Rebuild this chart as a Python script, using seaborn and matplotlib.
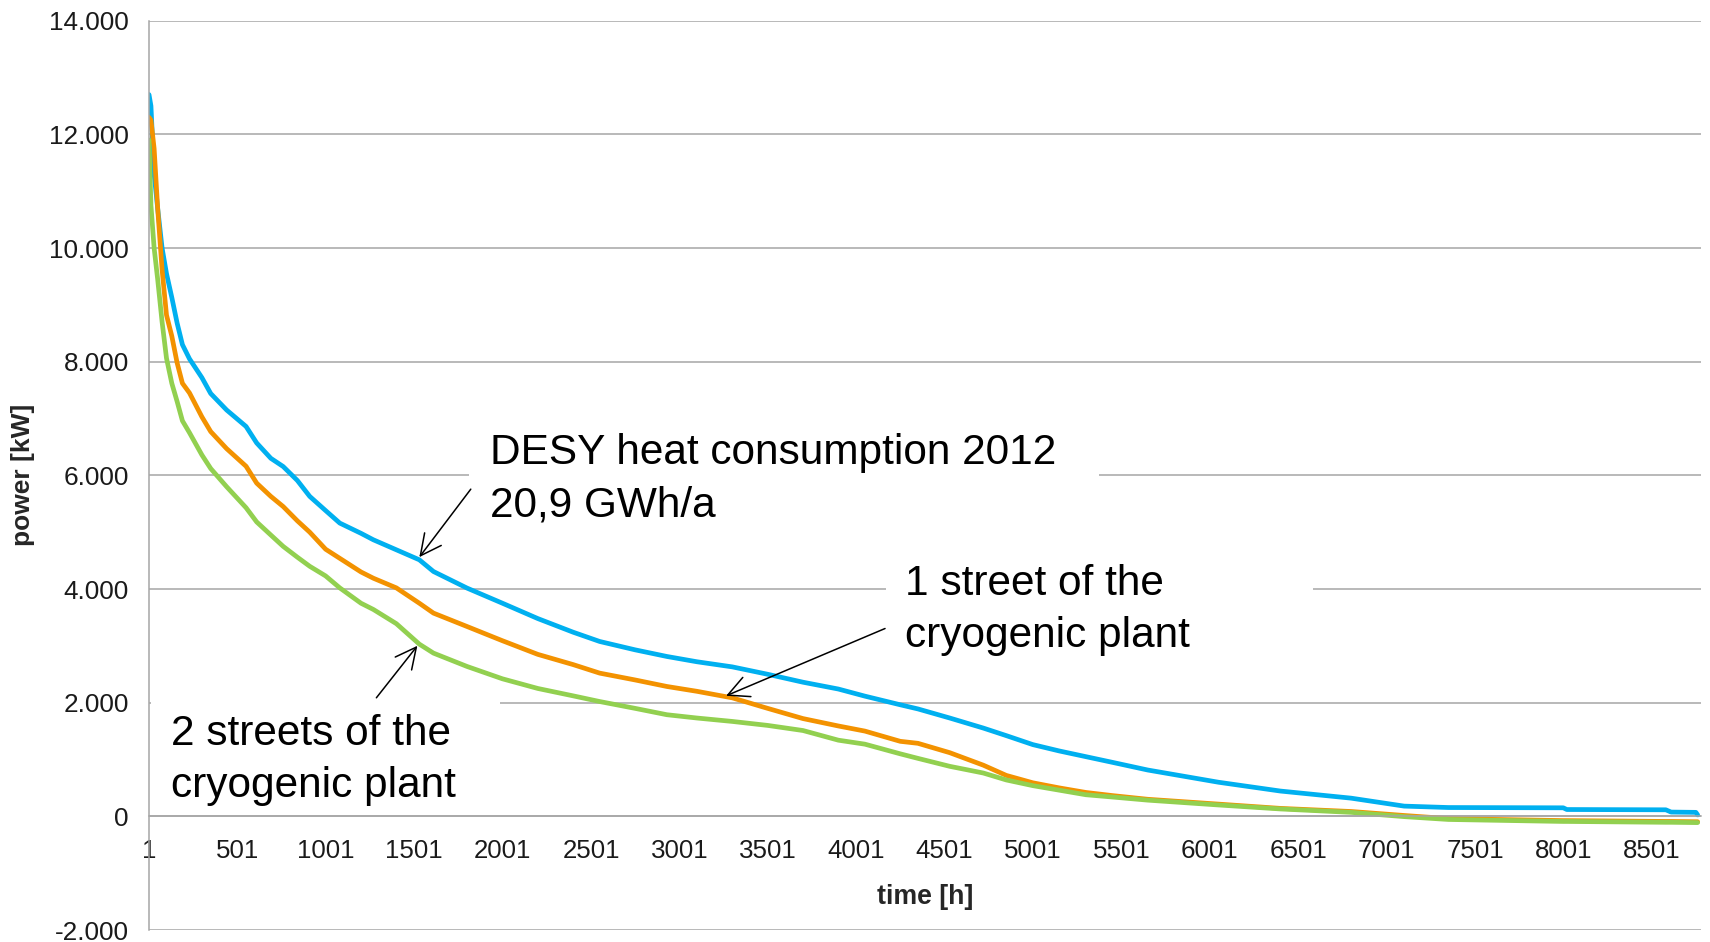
import numpy as np
import pandas as pd
import matplotlib
matplotlib.use("Agg")
import matplotlib.pyplot as plt
from matplotlib.path import Path
from matplotlib.ticker import FixedLocator
import seaborn as sns

# ---------------- data ----------------
hours = [1, 12, 30, 50, 75, 100, 130, 160, 190, 230,
         300, 350, 440, 550, 610, 690, 760, 840, 910, 1000,
         1080, 1200, 1270, 1400, 1530, 1610, 1800, 2000, 2200, 2400,
         2550, 2750, 2930, 3100, 3300, 3500, 3700, 3900, 4050, 4250,
         4350, 4530, 4720, 4850, 5000, 5150, 5300, 5450, 5650, 6050,
         6400, 6800, 7100, 7350, 8000, 8020, 8580, 8610, 8750, 8760]

desy_heat = [12700, 12500, 11300, 10700, 10000, 9550, 9130, 8680, 8300, 8050,
             7720, 7440, 7150, 6860, 6570, 6300, 6155, 5910, 5630, 5380,
             5160, 4980, 4866, 4690, 4514, 4308, 4016, 3750, 3480, 3240,
             3077, 2930, 2813, 2720, 2630, 2500, 2360, 2240, 2115, 1963,
             1890, 1730, 1553, 1420, 1262, 1150, 1050, 950, 815, 600,
             445, 320, 180, 155, 150, 120, 115, 75, 70, 25]

one_street = [12300, 12250, 11750, 10700, 9620, 8820, 8450, 7980, 7620, 7450,
              7030, 6770, 6470, 6160, 5863, 5630, 5451, 5200, 5000, 4700,
              4540, 4300, 4190, 4020, 3750, 3576, 3340, 3090, 2850, 2670,
              2520, 2400, 2285, 2200, 2085, 1900, 1720, 1590, 1500, 1320,
              1285, 1120, 900, 720, 590, 500, 420, 365, 300, 215,
              140, 85, 15, -40, -75, -75, -90, -90, -95, -95]

two_streets = [11900, 10750, 10000, 9450, 8700, 8060, 7620, 7300, 6960, 6750,
               6360, 6120, 5800, 5430, 5180, 4950, 4750, 4560, 4400, 4230,
               4020, 3750, 3640, 3390, 3030, 2872, 2637, 2420, 2250, 2120,
               2020, 1900, 1788, 1730, 1670, 1600, 1510, 1340, 1270, 1100,
               1020, 880, 762, 640, 540, 460, 380, 340, 285, 200,
               130, 70, -5, -55, -90, -90, -105, -105, -110, -110]

series_names = ["DESY heat consumption", "1 street", "2 streets"]
series_colors = ["#00B0F0", "#F39200", "#92D050"]

y_tick_values = [-2000, 0, 2000, 4000, 6000, 8000, 10000, 12000, 14000]
y_tick_labels = ["-2.000", "0", "2.000", "4.000", "6.000", "8.000",
                 "10.000", "12.000", "14.000"]
x_tick_values = [1, 501, 1001, 1501, 2001, 2501, 3001, 3501, 4001, 4501,
                 5001, 5501, 6001, 6501, 7001, 7501, 8001, 8501]
x_tick_labels = [str(v) for v in x_tick_values]
x_minor_ticks = [251, 751, 1251, 1751, 2251, 2751, 3251, 3751, 4251, 4751,
                 5251, 5751, 6251, 6751, 7251, 7751, 8251, 8751]

x_label = "time [h]"
y_label = "power [kW]"
note_desy = "DESY heat consumption 2012\n20,9 GWh/a"
note_one = "1 street of the\ncryogenic plant"
note_two = "2 streets of the\ncryogenic plant"

# ---------------- styling ----------------
sns.set_style("white")
plt.rcParams["font.family"] = ["Liberation Sans", "DejaVu Sans"]

GRID = "#A6A6A6"

df = pd.concat([
    pd.DataFrame({"hour": hours, "power": vals, "series": name})
    for name, vals in zip(series_names, [desy_heat, one_street, two_streets])
], ignore_index=True)

fig = plt.figure(figsize=(17.10, 9.42), dpi=100)
ax = fig.add_axes([149 / 1710, 12 / 942, 1552 / 1710, 909.3 / 942])

sns.lineplot(data=df, x="hour", y="power", hue="series",
             hue_order=series_names, palette=series_colors,
             estimator=None, sort=False, linewidth=3.4, legend=False, ax=ax)

ax.set_xlim(1, 8779)
ax.set_ylim(-2000, 14000)

ax.set_yticks(y_tick_values)
ax.set_yticklabels(y_tick_labels)
ax.set_xticks(x_tick_values)
ax.set_xticklabels(x_tick_labels)
ax.xaxis.set_minor_locator(FixedLocator(x_minor_ticks))

ax.set_axisbelow(True)
ax.yaxis.grid(True, color=GRID, linewidth=1.1)
ax.xaxis.grid(False)

for s in ["top", "right"]:
    ax.spines[s].set_visible(False)
ax.spines["left"].set_color(GRID)
ax.spines["left"].set_linewidth(1.1)
ax.spines["bottom"].set_color(GRID)
ax.spines["bottom"].set_linewidth(1.1)
ax.spines["bottom"].set_position(("data", 0))

ax.tick_params(axis="y", which="major", direction="out", length=6.5,
               width=1.1, color=GRID, labelsize=18.8, pad=8, labelcolor="#1a1a1a")
ax.tick_params(axis="x", which="both", direction="out", length=6.5,
               width=1.1, color=GRID, labelsize=18.6, pad=10, labelcolor="#1a1a1a")
ax.tick_params(axis="x", which="minor", labelbottom=False)

ax.set_xlabel(x_label, fontsize=19.3, fontweight="bold")
ax.set_ylabel(y_label, fontsize=19, fontweight="bold")
ax.xaxis.set_label_coords(0.5, 0.0506)
ax.yaxis.set_label_coords(-0.0735, 0.5)


def pad_box(left, right, top, bottom):
    def box(x0, y0, width, height, mutation_size):
        x1 = x0 - left * mutation_size
        x2 = x0 + width + right * mutation_size
        y1 = y0 - bottom * mutation_size
        y2 = y0 + height + top * mutation_size
        return Path([(x1, y1), (x2, y1), (x2, y2), (x1, y2), (x1, y1)],
                    closed=True)
    return box


NOTE_FS = 30.5
LS = 1.4
ax.text(1930, 6748, note_desy, fontsize=NOTE_FS, ha="left", va="top",
        linespacing=LS, color="black",
        bbox=dict(boxstyle=pad_box(0.5, 1.0, 0.3, 0.3), fc="white", ec="none"))
ax.text(4277, 4447, note_one, fontsize=NOTE_FS, ha="left", va="top",
        linespacing=LS, color="black",
        bbox=dict(boxstyle=pad_box(0.45, 2.9, 0.3, 0.25), fc="white", ec="none"))
ax.text(125, 1805, note_two, fontsize=NOTE_FS, ha="left", va="top",
        linespacing=LS, color="black",
        bbox=dict(boxstyle=pad_box(0.47, 1.04, 0.32, 0.15), fc="white", ec="none"))

arrow_kw = dict(arrowstyle="->,head_length=0.6,head_width=0.3",
                color="black", lw=1.1, mutation_scale=25,
                shrinkA=0, shrinkB=0)
ax.annotate("", xy=(1530, 4561), xytext=(1821, 5757), arrowprops=arrow_kw)
ax.annotate("", xy=(3265, 2121), xytext=(4164, 3305), arrowprops=arrow_kw)
ax.annotate("", xy=(1519, 3001), xytext=(1287, 2086), arrowprops=arrow_kw)

fig.savefig("out.png", dpi=100)
